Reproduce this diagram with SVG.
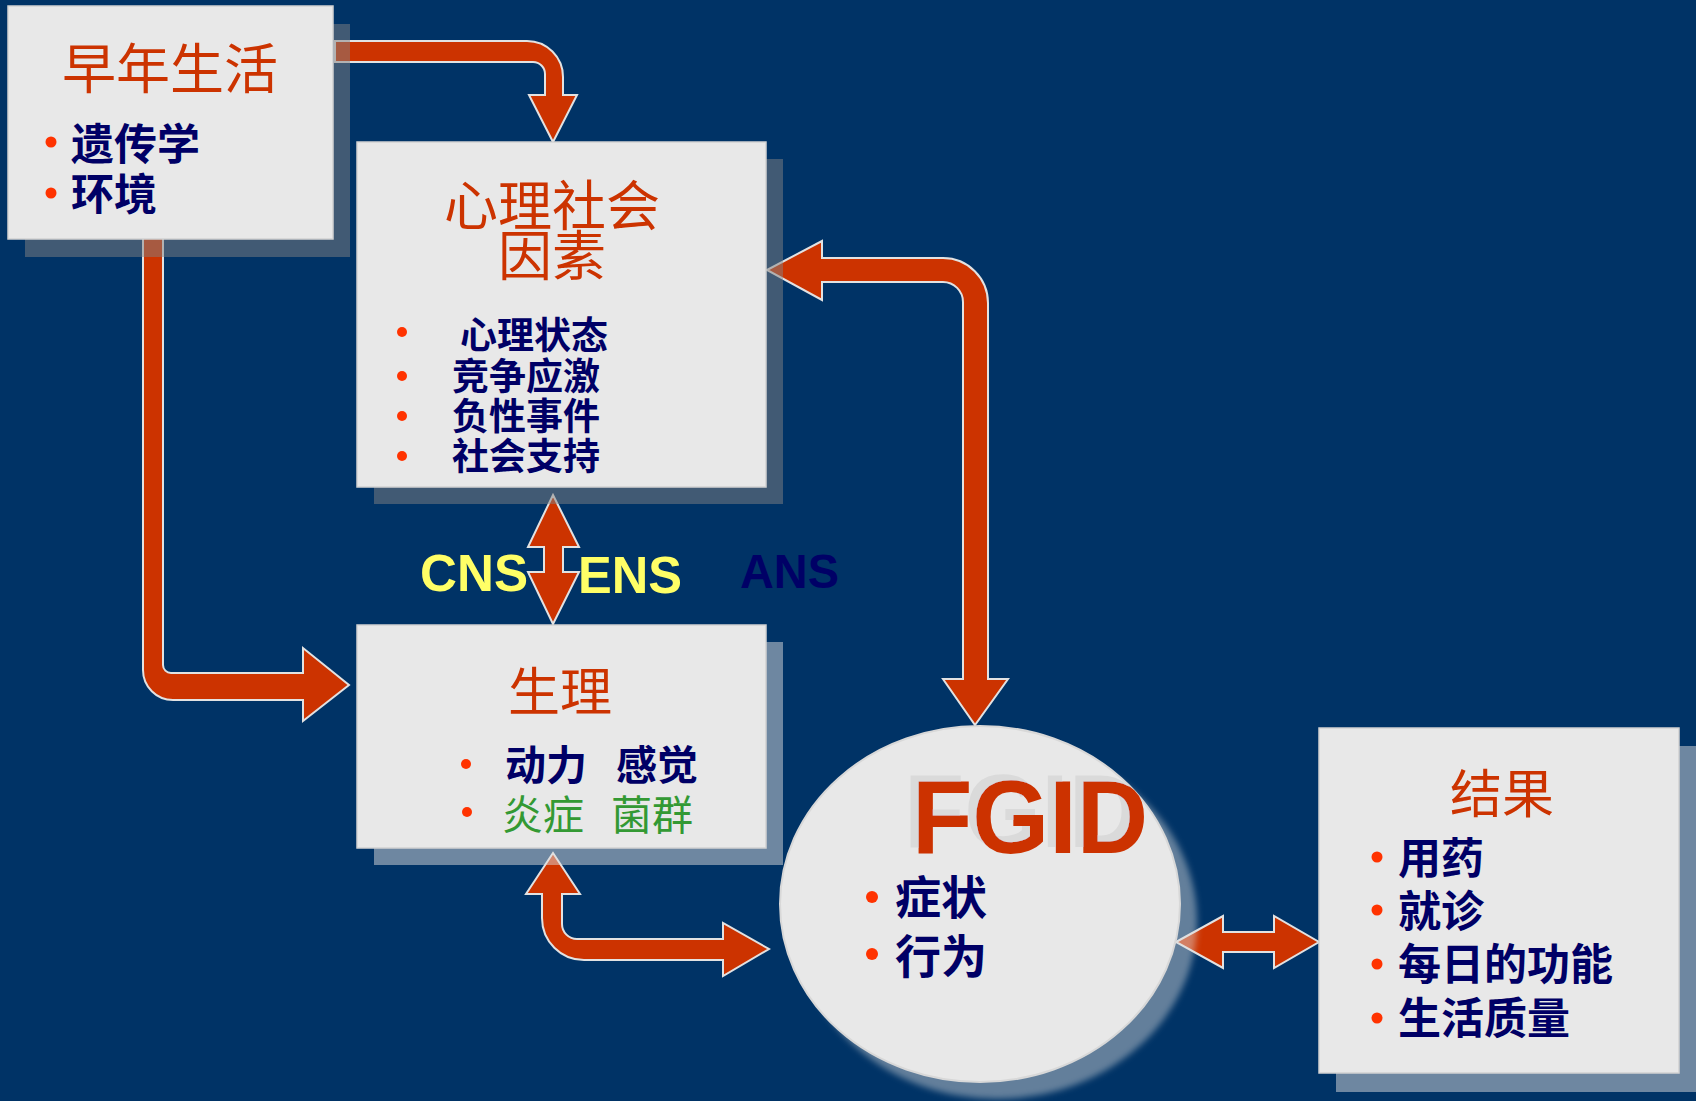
<svg xmlns="http://www.w3.org/2000/svg" width="1696" height="1101" viewBox="0 0 1696 1101">
<defs>
<style>
.bg{fill:#003366}
.box{fill:#e8e8e8;stroke:#d2d2d2;stroke-width:1.5}
.sh1{fill:rgb(130,130,130);fill-opacity:0.5}
.sh2{fill:rgb(220,220,220);fill-opacity:0.5}
.arrow{fill:#cc3300;stroke:#e2e2e2;stroke-width:2;stroke-linejoin:miter}
.title{font-family:"Noto Sans CJK SC","Liberation Sans",sans-serif;fill:#cc3300;text-anchor:middle}
.item{font-family:"Noto Sans CJK SC","Liberation Sans",sans-serif;fill:#000066;font-weight:bold}
.green{fill:#339933;font-weight:normal}
.dot{fill:#ff3300}
.lat{font-family:"Liberation Sans",Arial,sans-serif;font-weight:bold}
</style>
<filter id="blur" x="-10%" y="-10%" width="120%" height="120%"><feGaussianBlur stdDeviation="3"/></filter>
<filter id="tshadow" x="-10%" y="-20%" width="120%" height="140%">
<feOffset in="SourceAlpha" dx="-8" dy="-6" result="o"/>
<feFlood flood-color="#dadada"/>
<feComposite in2="o" operator="in" result="s"/>
<feMerge><feMergeNode in="s"/><feMergeNode in="SourceGraphic"/></feMerge>
</filter>
</defs>
<rect class="bg" x="0" y="0" width="1696" height="1101"/>

<g id="connectors">
<path class="arrow" d="M 335 41 L 527 41 A 36 36 0 0 1 563 77 L 563 95 L 577 95 L 553 142 L 529 95 L 545 95 L 545 74 A 12 12 0 0 0 533 62 L 335 62 Z"/>
<path class="arrow" d="M 143 238 L 143 670 A 30 30 0 0 0 173 700 L 303 700 L 303 721 L 349 685 L 303 648 L 303 673 L 171 673 A 8 8 0 0 1 163 665 L 163 238 Z"/>
<path class="arrow" d="M 767 270 L 822 241 L 822 258 L 943 258 A 45 45 0 0 1 988 303 L 988 679 L 1008 679 L 975 725 L 943 679 L 963 679 L 963 302 A 20 20 0 0 0 943 282 L 822 282 L 822 300 Z"/>
<path class="arrow" d="M 553 495 L 579 547 L 563 547 L 563 572 L 579 572 L 553 624 L 528 572 L 544 572 L 544 547 L 528 547 Z"/>
<path class="arrow" d="M 553 853 L 580 894 L 562 894 L 562 924 A 15 15 0 0 0 577 939 L 723 939 L 723 923 L 769 949 L 723 976 L 723 960 L 584 960 A 42 42 0 0 1 542 918 L 542 894 L 526 894 Z"/>
<path class="arrow" d="M 1176 942 L 1223 916 L 1223 932 L 1274 932 L 1274 916 L 1319 942 L 1274 968 L 1274 952 L 1223 952 L 1223 968 Z"/>
</g>

<g id="node-early-life">
<rect class="sh1" x="25" y="24" width="325" height="233"/>
<rect class="box" x="8" y="6" width="325" height="233"/>
<text class="title" x="170" y="89" font-size="54">早年生活</text>
<circle class="dot" cx="51" cy="142" r="5.5"/>
<text class="item" x="71" y="160" font-size="43">遗传学</text>
<circle class="dot" cx="51" cy="193" r="5.5"/>
<text class="item" x="71" y="210" font-size="43">环境</text>
</g>

<g id="node-psychosocial">
<rect class="sh1" x="374" y="159" width="409" height="345"/>
<rect class="box" x="357" y="142" width="409" height="345"/>
<text class="title" x="552" y="226" font-size="54">心理社会</text>
<text class="title" x="552" y="276" font-size="54">因素</text>
<circle class="dot" cx="402" cy="332" r="5"/>
<text class="item" x="460" y="349" font-size="37">心理状态</text>
<circle class="dot" cx="402" cy="376" r="5"/>
<text class="item" x="452" y="390" font-size="37">竞争应激</text>
<circle class="dot" cx="402" cy="416" r="5"/>
<text class="item" x="452" y="430" font-size="37">负性事件</text>
<circle class="dot" cx="402" cy="456" r="5"/>
<text class="item" x="452" y="470" font-size="37">社会支持</text>
</g>

<g id="labels-nervous">
<text class="lat" x="420" y="591" font-size="52" fill="#ffff66" textLength="108" lengthAdjust="spacingAndGlyphs">CNS</text>
<text class="lat" x="578" y="593" font-size="52" fill="#ffff66" textLength="104" lengthAdjust="spacingAndGlyphs">ENS</text>
<text class="lat" x="740" y="588" font-size="49" fill="#000066" textLength="99" lengthAdjust="spacingAndGlyphs">ANS</text>
</g>

<g id="node-physiology">
<rect class="sh2" x="374" y="642" width="409" height="223"/>
<rect class="box" x="357" y="625" width="409" height="223"/>
<text class="title" x="560" y="711" font-size="52">生理</text>
<circle class="dot" cx="466" cy="764" r="5"/>
<text class="item" font-size="41" y="780"><tspan x="505">动力</tspan><tspan x="616">感觉</tspan></text>
<circle class="dot" cx="467" cy="812" r="5"/>
<text class="item green" font-size="41" y="830"><tspan x="502">炎症</tspan><tspan x="611">菌群</tspan></text>
</g>

<g id="node-fgid">
<ellipse cx="997" cy="921" rx="200" ry="178" fill="rgb(220,220,220)" fill-opacity="0.45" filter="url(#blur)"/>
<ellipse cx="980" cy="904" rx="200" ry="178" fill="#e8e8e8" stroke="#d8d8d8" stroke-width="2"/>
<text class="lat" x="912" y="853" font-size="104" fill="#cc3300" textLength="236" lengthAdjust="spacingAndGlyphs" filter="url(#tshadow)">FGID</text>
<circle class="dot" cx="872" cy="897" r="6"/>
<text class="item" x="895" y="914" font-size="46">症状</text>
<circle class="dot" cx="872" cy="954" r="6"/>
<text class="item" x="895" y="973" font-size="46">行为</text>
</g>

<g id="node-outcome">
<rect class="sh2" x="1336" y="746" width="360" height="346"/>
<rect class="box" x="1319" y="728" width="360" height="345"/>
<text class="title" x="1502" y="813" font-size="52">结果</text>
<circle class="dot" cx="1377" cy="857" r="5.5"/>
<text class="item" x="1398" y="874" font-size="43">用药</text>
<circle class="dot" cx="1377" cy="910" r="5.5"/>
<text class="item" x="1398" y="927" font-size="43">就诊</text>
<circle class="dot" cx="1377" cy="964" r="5.5"/>
<text class="item" x="1398" y="980" font-size="43">每日的功能</text>
<circle class="dot" cx="1377" cy="1018" r="5.5"/>
<text class="item" x="1398" y="1034" font-size="43">生活质量</text>
</g>
</svg>
